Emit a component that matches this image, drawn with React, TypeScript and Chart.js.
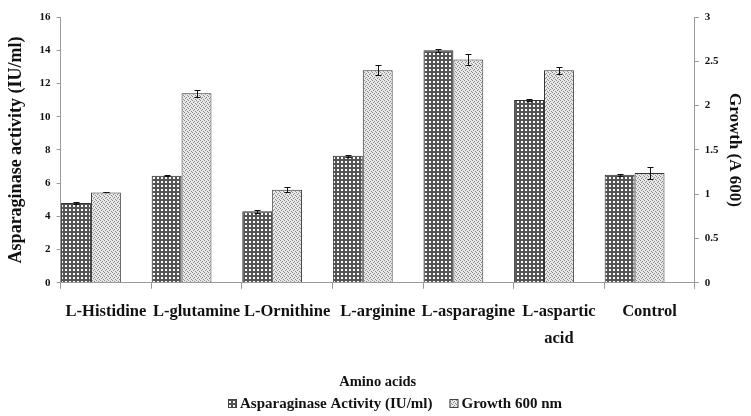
import React, { useEffect, useRef } from "react";
import { Chart, registerables } from "chart.js";

Chart.register(...registerables);

const categories: (string | string[])[] = [
  "L-Histidine",
  "L-glutamine",
  "L-Ornithine",
  "L-arginine",
  "L-asparagine",
  ["L-aspartic", "acid"],
  "Control",
];
const seriesNames = ["Asparaginase Activity (IU/ml)", "Growth 600 nm"];
const activityValues = [4.8, 6.45, 4.3, 7.65, 14.0, 11.0, 6.5];
const activityErrors = [0.08, 0.05, 0.08, 0.05, 0.1, 0.05, 0.05];
const growthValues = [1.02, 2.14, 1.05, 2.4, 2.52, 2.4, 1.24];
const growthErrors = [0.0, 0.04, 0.03, 0.06, 0.06, 0.04, 0.07];
const leftTicksMax = 16;
const rightTicksMax = 3;

const FONT = "'Liberation Serif', 'Times New Roman', serif";

function makePattern(kind: "grid" | "dots"): CanvasPattern | string {
  const c = document.createElement("canvas");
  c.width = 4;
  c.height = 4;
  const ctx = c.getContext("2d");
  if (!ctx) return "#888";
  if (kind === "grid") {
    ctx.fillStyle = "#545454";
    ctx.fillRect(0, 0, 4, 4);
    ctx.fillStyle = "#fafafa";
    ctx.fillRect(1, 1, 2, 2);
  } else {
    ctx.fillStyle = "#e8e8e8";
    ctx.fillRect(0, 0, 4, 4);
    ctx.fillStyle = "#8a8a8a";
    ctx.fillRect(0, 0, 1, 1);
    ctx.fillRect(2, 1, 1, 1);
    ctx.fillRect(1, 2, 1, 1);
    ctx.fillRect(3, 3, 1, 1);
  }
  const p = ctx.createPattern(c, "repeat");
  return p || "#888";
}

const errorBarPlugin = {
  id: "errorBars",
  afterDatasetsDraw(chart: any) {
    const ctx = chart.ctx;
    const sets = [
      { idx: 0, errs: activityErrors, vals: activityValues, axis: "y" },
      { idx: 1, errs: growthErrors, vals: growthValues, axis: "y1" },
    ];
    ctx.save();
    ctx.strokeStyle = "#111";
    ctx.lineWidth = 1;
    for (const s of sets) {
      const meta = chart.getDatasetMeta(s.idx);
      const scale = chart.scales[s.axis];
      meta.data.forEach((bar: any, i: number) => {
        const v = s.vals[i];
        const e = s.errs[i];
        const x = Math.round(bar.x) + 0.5;
        const yTop = Math.round(scale.getPixelForValue(v + e)) + 0.5;
        const yBot = Math.round(scale.getPixelForValue(v - e)) + 0.5;
        ctx.beginPath();
        ctx.moveTo(x, yTop);
        ctx.lineTo(x, yBot);
        ctx.moveTo(x - 3, yTop);
        ctx.lineTo(x + 3, yTop);
        ctx.moveTo(x - 3, yBot);
        ctx.lineTo(x + 3, yBot);
        ctx.stroke();
      });
    }
    ctx.restore();
  },
};

const customLegendPlugin = {
  id: "customLegend",
  afterDraw(chart: any) {
    const ctx = chart.ctx;
    ctx.save();
    ctx.font = `bold 15px ${FONT}`;
    ctx.textBaseline = "middle";
    ctx.fillStyle = "#111";
    const box = 9;
    const gap = 3;
    const spacing = 17;
    const items = chart.data.datasets.slice(0, 2).map((d: any) => ({
      text: d.label,
      fill: d.backgroundColor,
      w: ctx.measureText(d.label).width,
    }));
    let total = 0;
    items.forEach((it: any, i: number) => {
      total += box + gap + it.w + (i < items.length - 1 ? spacing : 0);
    });
    const cx = chart.width / 2 + 20;
    let x = Math.round(cx - total / 2);
    const y = chart.height - 13;
    items.forEach((it: any) => {
      ctx.fillStyle = it.fill;
      ctx.fillRect(x, Math.round(y - box / 2), box, box);
      ctx.strokeStyle = "#444";
      ctx.lineWidth = 1;
      ctx.strokeRect(x + 0.5, Math.round(y - box / 2) + 0.5, box - 1, box - 1);
      ctx.fillStyle = "#111";
      ctx.fillText(it.text, x + box + gap, y + 1);
      x += box + gap + it.w + spacing;
    });
    ctx.restore();
  },
};

export default function App() {
  const ref = useRef<HTMLCanvasElement>(null);

  useEffect(() => {
    if (!ref.current) return;
    const gridPat = makePattern("grid");
    const dotPat = makePattern("dots");
    const axisColor = "#9a9a9a";
    const chart = new Chart(ref.current, {
      type: "bar",
      data: {
        labels: categories,
        datasets: [
          {
            label: seriesNames[0],
            data: activityValues,
            backgroundColor: gridPat as any,
            borderColor: "#333",
            borderWidth: 1,
            yAxisID: "y",
            categoryPercentage: 0.99,
            barPercentage: 1.0,
          },
          {
            label: seriesNames[1],
            data: growthValues,
            backgroundColor: dotPat as any,
            borderColor: "#333",
            borderWidth: 1,
            yAxisID: "y1",
            categoryPercentage: 0.99,
            barPercentage: 1.0,
          },
          {
            label: "",
            data: categories.map(() => null),
            yAxisID: "y",
            categoryPercentage: 0.99,
            barPercentage: 1.0,
          },
        ],
      },
      plugins: [errorBarPlugin, customLegendPlugin],
      options: {
        animation: false,
        responsive: false,
        maintainAspectRatio: false,
        layout: { padding: { top: 17, left: 6, right: 0, bottom: 25 } },
        plugins: {
          tooltip: { enabled: false },
          legend: { display: false },
        },
        scales: {
          x: {
            offset: true,
            grid: {
              display: true,
              offset: true,
              drawOnChartArea: false,
              drawTicks: true,
              tickLength: 6,
              color: axisColor,
            },
            border: { color: axisColor },
            ticks: {
              color: "#111",
              autoSkip: false,
              maxRotation: 0,
              padding: 10,
              font: { family: FONT, size: 16.5, weight: "bold", lineHeight: 1.6 },
            },
            title: {
              display: true,
              text: "Amino acids",
              color: "#111",
              padding: { top: 12, bottom: 0 },
              font: { family: FONT, size: 14.5, weight: "bold" },
            },
          },
          y: {
            position: "left",
            min: 0,
            max: leftTicksMax,
            ticks: {
              stepSize: 2,
              color: "#111",
              padding: 6,
              font: { family: FONT, size: 11, weight: "bold" },
            },
            grid: {
              display: true,
              drawOnChartArea: false,
              drawTicks: true,
              tickLength: 4,
              color: axisColor,
            },
            border: { color: axisColor },
            title: {
              display: true,
              text: "Asparaginase activity (IU/ml)",
              color: "#111",
              padding: { top: 0, bottom: 6 },
              font: { family: FONT, size: 18, weight: "bold" },
            },
          },
          y1: {
            position: "right",
            min: 0,
            max: rightTicksMax,
            ticks: {
              stepSize: 0.5,
              color: "#111",
              padding: 6,
              callback: (v: any) => String(Number(v)),
              font: { family: FONT, size: 11, weight: "bold" },
            },
            grid: {
              display: true,
              drawOnChartArea: false,
              drawTicks: true,
              tickLength: 4,
              color: axisColor,
            },
            border: { color: axisColor },
            title: {
              display: true,
              text: "Growth (A 600)",
              color: "#111",
              padding: { top: 6, bottom: 0 },
              font: { family: FONT, size: 17, weight: "bold" },
            },
          },
        },
      },
    } as any);
    return () => chart.destroy();
  }, []);

  return (
    <div style={{ position: "fixed", left: 0, top: 0, width: 751, height: 416, background: "#fff" }}>
      <canvas ref={ref} width={751} height={416} style={{ width: 751, height: 416 }} />
    </div>
  );
}
